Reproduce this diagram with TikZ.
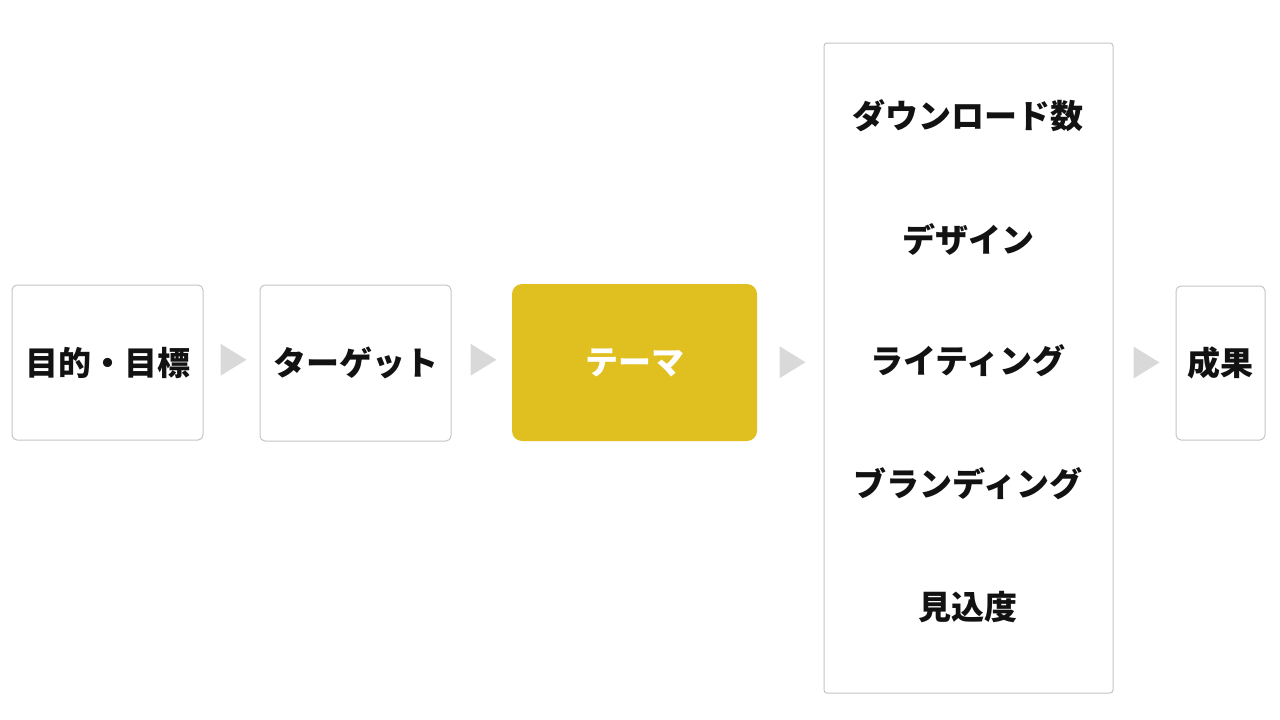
\documentclass[tikz,border=0pt]{standalone}
\usepackage{fontspec}
\setmainfont{Noto Sans CJK JP}[BoldFont={Noto Sans CJK JP Black}]
\usetikzlibrary{calc}
\definecolor{themefill}{HTML}{E0C020}
\definecolor{frame}{HTML}{C4C4C4}
\definecolor{tipgray}{HTML}{D9D9D9}

\begin{document}
\begin{tikzpicture}[x=1pt, y=-1pt,
    box/.style={draw=frame, line width=1pt, rounded corners=5pt, inner sep=0pt, text=black!93,
      font=\fontsize{33}{40}\selectfont\bfseries},
    metric/.style={inner sep=0pt, text=black!93, font=\fontsize{33}{40}\selectfont\bfseries}]
    \useasboundingbox (0,0) rectangle (1280,720);
    % flow
    \node[box, minimum width=191, minimum height=155] (goal) at (107.5,362.5) {目的・目標};
    \node[box, minimum width=191, minimum height=156] (target) at (355.5,363) {ターゲット};
    \node[box, fill=themefill, draw=none, rounded corners=10pt, text=white,
      minimum width=245, minimum height=157] (theme) at (634.5,362.5) {テーマ};
    \node[box, rounded corners=3pt, minimum width=289, minimum height=650] (metrics) at (968.5,368) {};
    \node[box, minimum width=89, minimum height=154] (result) at (1220.5,363) {成果};
    % inside the metrics column
    \node[metric] (downloads) at (968,116) {ダウンロード数};
    \node[metric] (design) at (968,239) {デザイン};
    \node[metric] (writing) at (968,361) {ライティング};
    \node[metric] (branding) at (968,484) {ブランディング};
    \node[metric] (prospects) at (968,607) {見込度};
    % triangles between the boxes
    \foreach \a/\b in {goal/target, target/theme, theme/metrics, metrics/result}
        \fill[tipgray] ($(\a.east)!0.5!(\b.west)$) ++(-11,-19) -- ++(26,16) -- ++(-26,16) -- cycle;
\end{tikzpicture}
\end{document}
